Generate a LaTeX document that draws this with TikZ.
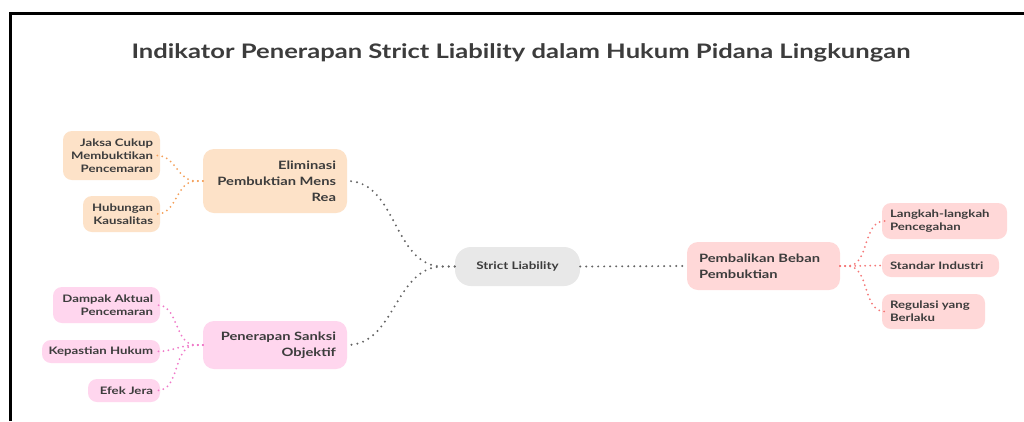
\documentclass[tikz,border=0pt]{standalone}
\usepackage{fontspec}
\setmainfont{Lato}[FakeStretch=1.28]
\definecolor{peach}{RGB}{253,226,200}
\definecolor{pinkb}{RGB}{255,214,238}
\definecolor{salmon}{RGB}{255,216,216}
\definecolor{grayb}{RGB}{232,232,232}
\definecolor{eorange}{RGB}{245,160,90}
\definecolor{epink}{RGB}{240,120,200}
\definecolor{esalmon}{RGB}{245,120,120}
\definecolor{egray}{RGB}{100,100,100}
\definecolor{txt}{RGB}{60,60,60}
\tikzset{
  cbox/.style={rounded corners=9pt, inner sep=0pt},
  pbox/.style={rounded corners=11pt, inner sep=0pt},
  ctext/.style={inner sep=0pt, text=txt, font=\fontsize{10.3}{13}\selectfont\bfseries},
  ptext/.style={inner sep=0pt, text=txt, font=\fontsize{11.5}{16}\selectfont\bfseries},
  dotline/.style={line width=2.2pt, line cap=round, dash pattern=on 0pt off 6pt},
  cdot/.style={line width=2pt, line cap=round, dash pattern=on 0pt off 5pt},
}
\begin{document}
\begin{tikzpicture}[x=1pt,y=-1pt]
\useasboundingbox (0,0) rectangle (1024,421);
\fill[white] (0,0) rectangle (1024,421);
\draw[line width=3pt] (10.5,421) -- (10.5,13) -- (1024,13);
\node[text=txt, font=\fontsize{20}{24}\selectfont\bfseries] (title) at (521,53) {Indikator Penerapan Strict Liability dalam Hukum Pidana Lingkungan};
% root
\node[fill=grayb, rounded corners=16pt, minimum width=125pt, minimum height=39pt, text=txt, font=\fontsize{10.5}{14}\selectfont\bfseries] (root) at (517.5,266.5) {Strict Liability};
% parents
\node[pbox, fill=peach, minimum width=144pt, minimum height=64pt] (elim) at (275,181) {};
\node[ptext, anchor=east, align=right] (elimT) at ([xshift=-11pt]elim.east) {Eliminasi\\Pembuktian Mens\\Rea};
\node[pbox, fill=pinkb, minimum width=144pt, minimum height=48pt] (pen) at (275,345) {};
\node[ptext, anchor=east, align=right] (penT) at ([xshift=-11pt]pen.east) {Penerapan Sanksi\\Objektif};
\node[pbox, fill=salmon, minimum width=153pt, minimum height=48pt] (pemb) at (763.5,266) {};
\node[ptext, anchor=west, align=left] (pembT) at ([xshift=12pt]pemb.west) {Pembalikan Beban\\Pembuktian};
% children
\node[cbox, fill=peach, minimum width=97pt, minimum height=49pt] (jaksa) at (111.5,155.5) {};
\node[ctext, anchor=east, align=right] (jaksaT) at ([xshift=-7pt]jaksa.east) {Jaksa Cukup\\Membuktikan\\Pencemaran};
\node[cbox, fill=peach, minimum width=77pt, minimum height=36pt] (hub) at (121.5,214) {};
\node[ctext, anchor=east, align=right] (hubT) at ([xshift=-7pt]hub.east) {Hubungan\\Kausalitas};
\node[cbox, fill=pinkb, minimum width=107pt, minimum height=36pt] (dampak) at (106.5,305) {};
\node[ctext, anchor=east, align=right] (dampakT) at ([xshift=-7pt]dampak.east) {Dampak Aktual\\Pencemaran};
\node[cbox, fill=pinkb, minimum width=118pt, minimum height=23pt] (kep) at (101,351.5) {};
\node[ctext, anchor=east, align=right] (kepT) at ([xshift=-7pt]kep.east) {Kepastian Hukum};
\node[cbox, fill=pinkb, minimum width=72pt, minimum height=23pt] (efek) at (124,390.5) {};
\node[ctext, anchor=east, align=right] (efekT) at ([xshift=-7pt]efek.east) {Efek Jera};
\node[cbox, fill=salmon, minimum width=125pt, minimum height=36pt] (lang) at (944.5,221) {};
\node[ctext, anchor=west, align=left] (langT) at ([xshift=8pt]lang.west) {Langkah-langkah\\Pencegahan};
\node[cbox, fill=salmon, minimum width=117pt, minimum height=23pt] (std) at (940.5,265.5) {};
\node[ctext, anchor=west, align=left] (stdT) at ([xshift=8pt]std.west) {Standar Industri};
\node[cbox, fill=salmon, minimum width=103pt, minimum height=35pt] (reg) at (933.5,311.5) {};
\node[ctext, anchor=west, align=left] (regT) at ([xshift=8pt]reg.west) {Regulasi yang\\Berlaku};
% connectors root
\draw[dotline, egray] (root.west) -- ++(-12,0) to[out=180,in=0] (elim.east);
\draw[dotline, egray] (root.west) -- ++(-12,0) to[out=180,in=0] (pen.east);
\draw[dotline, egray] (root.east) -- (pemb.west);
% connectors children
\draw[cdot, eorange] (elim.west) -- ++(-7,0) to[out=180,in=0] ([xshift=-3pt]jaksa.east);
\draw[cdot, eorange] (elim.west) -- ++(-7,0) to[out=180,in=0] ([xshift=-3pt]hub.east);
\draw[cdot, epink] (pen.west) -- ++(-7,0) to[out=180,in=0] ([xshift=-3pt]dampak.east);
\draw[cdot, epink] (pen.west) -- ++(-7,0) to[out=180,in=0] ([xshift=-3pt]kep.east);
\draw[cdot, epink] (pen.west) -- ++(-7,0) to[out=180,in=0] ([xshift=-3pt]efek.east);
\draw[cdot, esalmon] (pemb.east) -- ++(7,0) to[out=0,in=180] ([xshift=3pt]lang.west);
\draw[cdot, esalmon] (pemb.east) -- ++(7,0) to[out=0,in=180] ([xshift=3pt]std.west);
\draw[cdot, esalmon] (pemb.east) -- ++(7,0) to[out=0,in=180] ([xshift=3pt]reg.west);
\end{tikzpicture}
\end{document}
